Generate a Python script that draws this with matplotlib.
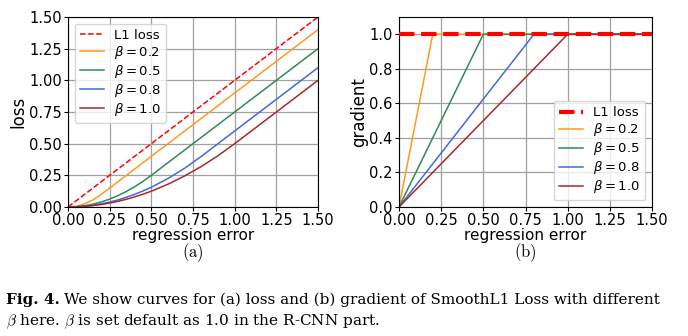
import numpy as np
import matplotlib
matplotlib.use("Agg")
import matplotlib.pyplot as plt

plt.rcParams['font.family'] = ['DejaVu Sans']
plt.rcParams['mathtext.fontset'] = 'dejavusans'

# regression error samples and loss values
err = [0, 0.05, 0.1, 0.15, 0.2, 0.25, 0.3, 0.35, 0.4, 0.45, 0.5, 0.6, 0.7, 0.8, 0.9, 1.0, 1.25, 1.5]
l1_loss = [0, 0.05, 0.1, 0.15, 0.2, 0.25, 0.3, 0.35, 0.4, 0.45, 0.5, 0.6, 0.7, 0.8, 0.9, 1.0, 1.25, 1.5]
loss_b02 = [0, 0.006, 0.025, 0.056, 0.1, 0.15, 0.2, 0.25, 0.3, 0.35, 0.4, 0.5, 0.6, 0.7, 0.8, 0.9, 1.15, 1.4]
loss_b05 = [0, 0.0025, 0.01, 0.0225, 0.04, 0.0625, 0.09, 0.1225, 0.16, 0.2025, 0.25, 0.35, 0.45, 0.55, 0.65, 0.75, 1.0, 1.25]
loss_b08 = [0, 0.0016, 0.0063, 0.014, 0.025, 0.039, 0.056, 0.077, 0.1, 0.127, 0.156, 0.225, 0.306, 0.4, 0.5, 0.6, 0.85, 1.1]
loss_b10 = [0, 0.0013, 0.005, 0.011, 0.02, 0.031, 0.045, 0.061, 0.08, 0.101, 0.125, 0.18, 0.245, 0.32, 0.405, 0.5, 0.75, 1.0]

# gradient panel (b): corner points
grad_x_l1 = [0, 1.5]
grad_y_l1 = [1.0, 1.0]
grad_x_b02 = [0, 0.2, 1.5]
grad_x_b05 = [0, 0.5, 1.5]
grad_x_b08 = [0, 0.8, 1.5]
grad_x_b10 = [0, 1.0, 1.5]
grad_y_b = [0, 1.0, 1.0]

labels = ['L1 loss', r'$\beta = 0.2$', r'$\beta = 0.5$', r'$\beta = 0.8$', r'$\beta = 1.0$']
colors = ['#ff0000', '#ff9922', '#2e8b57', '#4169e1', '#a52a2a']

fig = plt.figure(figsize=(6.88, 3.36), dpi=100)
axA = fig.add_axes([68/688, 1 - 207/336, 250/688, 190/336])
axB = fig.add_axes([399/688, 1 - 207/336, 253/688, 190/336])

xticks = [0, 0.25, 0.5, 0.75, 1.0, 1.25, 1.5]
yticksA = [0, 0.25, 0.5, 0.75, 1.0, 1.25, 1.5]

# (a) loss
axA.plot(err, l1_loss, '--', color=colors[0], lw=1.1, label=labels[0])
for ys, c, lab in zip([loss_b02, loss_b05, loss_b08, loss_b10], colors[1:], labels[1:]):
    axA.plot(err, ys, '-', color=c, lw=1.1, label=lab)
axA.set_xlim(0, 1.5)
axA.set_ylim(0, 1.5)
axA.set_xticks(xticks)
axA.set_yticks(yticksA)
axA.set_xticklabels(['%.2f' % v for v in xticks])
axA.set_yticklabels(['%.2f' % v for v in yticksA])
axA.set_ylabel('loss', fontsize=12, labelpad=1)
axA.set_xlabel('regression error', fontsize=11, labelpad=0)
axA.legend(loc='upper left', fontsize=9.5, handlelength=1.8, labelspacing=0.15,
           borderaxespad=0.5, handletextpad=0.8)

# (b) gradient
axB.plot(grad_x_l1, grad_y_l1, '--', color=colors[0], lw=3, label=labels[0], zorder=3)
for xs, c, lab in zip([grad_x_b02, grad_x_b05, grad_x_b08, grad_x_b10], colors[1:], labels[1:]):
    axB.plot(xs, grad_y_b, '-', color=c, lw=1.1, label=lab)
axB.set_xlim(0, 1.5)
axB.set_ylim(0, 1.1)
axB.set_xticks(xticks)
axB.set_yticks([0, 0.2, 0.4, 0.6, 0.8, 1.0])
axB.set_xticklabels(['%.2f' % v for v in xticks])
axB.set_ylabel('gradient', fontsize=12, labelpad=1)
axB.set_xlabel('regression error', fontsize=11, labelpad=0)
axB.legend(loc='lower right', fontsize=9.5, handlelength=1.8, labelspacing=0.15,
           borderaxespad=0.5, handletextpad=0.8)

for ax in (axA, axB):
    ax.grid(True, color='#a0a0a0', lw=0.9)
    ax.tick_params(labelsize=10.5, length=3, pad=1.5)
    for s in ax.spines.values():
        s.set_linewidth(0.8)

serif = ['DejaVu Serif']
fig.text(193/688, 1 - 253/336, r'$\mathrm{(a)}$', fontsize=12, math_fontfamily='cm', ha='center', va='center')
fig.text(525/688, 1 - 253/336, r'$\mathrm{(b)}$', fontsize=12, math_fontfamily='cm', ha='center', va='center')

# caption: bold "Fig. 4." then the rest right after it
cap_size = 11
bold = fig.text(6/688, 1 - 300/336, 'Fig. 4.', fontsize=cap_size, family=serif, weight='bold',
                ha='left', va='center')
fig.canvas.draw()
bb = bold.get_window_extent()
rest_x = fig.transFigure.inverted().transform((bb.x1 + 4, 0))[0]
fig.text(rest_x, 1 - 300/336, 'We show curves for (a) loss and (b) gradient of SmoothL1 Loss with different',
         fontsize=cap_size, family=serif, ha='left', va='center')
fig.text(6/688, 1 - 322/336, r'$\beta$ here. $\beta$ is set default as 1.0 in the R-CNN part.',
         fontsize=cap_size, family=serif, math_fontfamily='cm', ha='left', va='center')

fig.savefig('out.png', dpi=100)
